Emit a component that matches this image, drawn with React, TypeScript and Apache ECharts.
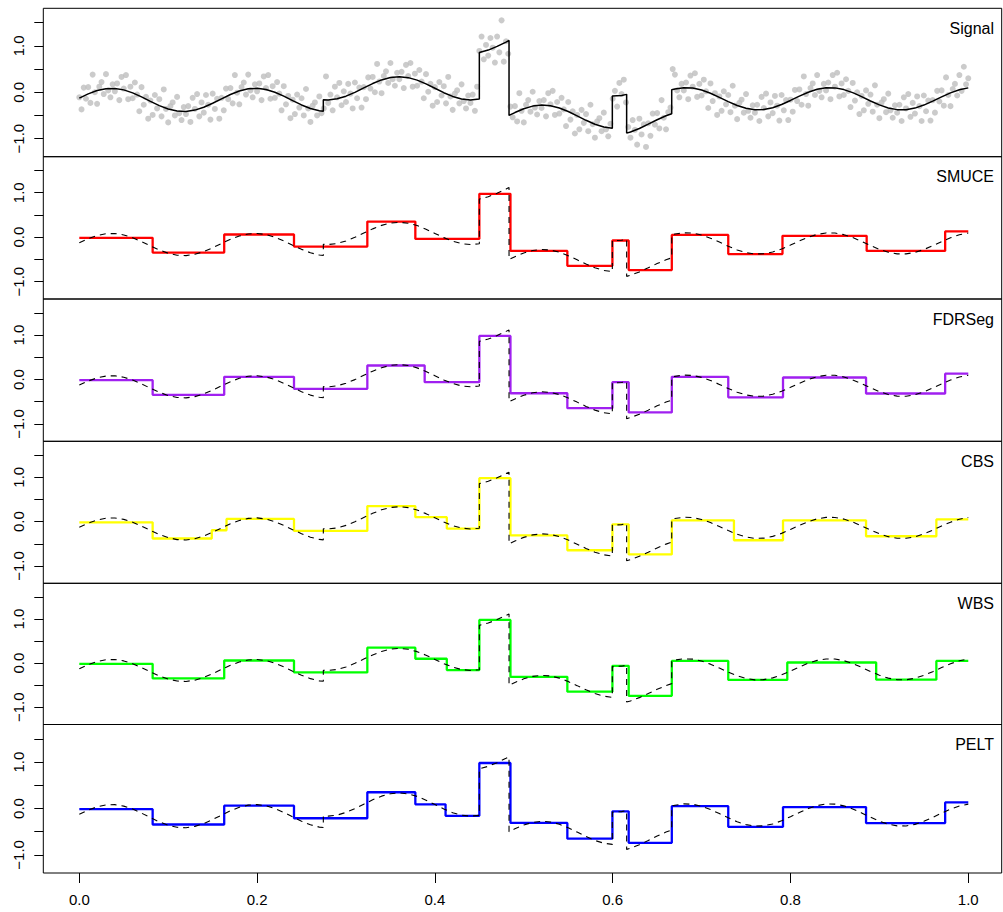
import React, { useEffect, useRef } from "react";
import * as echarts from "echarts";

// ---------- data ----------
// noisy observations, equally spaced on [0, 1] (401 points)
const signalY: number[] = [
  -0.11, -0.37, 0.1, -0.14, 0.11, -0.23, 0.38, 0.0, -0.25, 0.12, 0.22, -0.04, 0.39, 0.04, -0.11, 0.17,
  0.02, 0.19, -0.17, 0.33, 0.08, 0.37, -0.15, 0.12, -0.13, 0.21, -0.05, -0.41, 0.11, -0.27, -0.1, -0.57,
  -0.18, -0.49, -0.06, -0.35, -0.15, -0.52, 0.06, -0.36, -0.65, -0.3, -0.22, -0.5, -0.1, -0.45, -0.6, -0.32,
  -0.47, -0.3, -0.64, -0.12, -0.36, -0.04, -0.52, -0.22, -0.44, -0.06, -0.27, -0.59, -0.03, -0.36, -0.14, -0.57,
  -0.12, -0.39, 0.08, -0.15, 0.09, -0.24, 0.37, -0.01, -0.26, 0.11, 0.21, -0.05, 0.38, 0.04, -0.11, 0.17,
  0.02, 0.19, -0.17, 0.34, 0.09, 0.37, -0.14, 0.13, -0.12, 0.22, -0.03, -0.39, 0.13, -0.26, -0.08, -0.56,
  -0.16, -0.47, -0.05, -0.33, -0.13, -0.5, 0.07, -0.35, -0.64, -0.29, -0.22, -0.5, -0.09, -0.45, -0.35, 0.34,
  -0.23, -0.05, -0.39, 0.12, -0.11, 0.2, -0.28, 0.02, -0.21, 0.18, -0.03, -0.35, 0.21, -0.13, 0.1, -0.33,
  0.11, -0.15, 0.32, 0.08, 0.33, 0.0, 0.61, 0.23, -0.02, 0.35, 0.45, 0.2, 0.63, 0.28, 0.14, 0.42,
  0.28, 0.44, 0.09, 0.59, 0.35, 0.63, 0.12, 0.4, 0.14, 0.48, 0.23, -0.13, 0.39, 0.01, 0.18, -0.29,
  0.11, -0.21, 0.22, -0.07, 0.13, -0.24, 0.33, -0.09, -0.38, -0.03, 0.04, -0.24, 0.17, -0.19, -0.35, -0.07,
  -0.23, -0.05, -0.4, 0.12, 0.89, 1.2, 0.71, 1.02, 0.79, 1.17, 0.96, 0.64, 1.2, 0.86, 1.55, 0.66,
  1.1, 0.83, -0.31, -0.54, -0.3, -0.63, -0.02, -0.4, -0.65, -0.27, -0.17, -0.42, 0.01, -0.33, -0.48, -0.19,
  -0.34, -0.17, -0.52, -0.02, -0.26, 0.03, -0.49, -0.21, -0.46, -0.12, -0.37, -0.73, -0.21, -0.59, -0.41, -0.89,
  -0.49, -0.8, -0.38, -0.66, -0.47, -0.84, -0.27, -0.69, -0.98, -0.63, -0.56, -0.84, -0.44, -0.8, -0.95, -0.68,
  -0.14, 0.03, -0.31, 0.2, -0.04, 0.27, -0.22, -0.75, -0.98, -0.6, -0.81, -1.13, -0.57, -0.91, -0.69, -1.18,
  -0.67, -0.94, -0.46, -0.7, -0.45, -0.78, -0.17, -0.55, -0.8, -0.43, -0.33, 0.5, 0.38, 0.04, -0.11, 0.18,
  0.04, 0.21, -0.15, 0.36, 0.12, 0.41, -0.1, 0.18, -0.07, 0.27, 0.02, -0.34, 0.19, -0.19, -0.02, -0.49,
  -0.09, -0.4, 0.02, -0.26, -0.06, -0.43, 0.14, -0.29, -0.58, -0.23, -0.16, -0.44, -0.04, -0.4, -0.55, -0.28,
  -0.44, -0.27, -0.62, -0.1, -0.34, -0.03, -0.52, -0.22, -0.45, -0.08, -0.29, -0.61, -0.06, -0.39, -0.17, -0.6,
  -0.16, -0.42, 0.05, -0.19, 0.06, -0.27, 0.34, -0.04, -0.29, 0.09, 0.19, -0.06, 0.37, 0.03, -0.11, 0.18,
  0.04, 0.21, -0.15, 0.37, 0.12, 0.42, -0.09, 0.19, -0.06, 0.28, 0.03, -0.32, 0.2, -0.18, 0.0, -0.47,
  -0.08, -0.39, 0.04, -0.25, -0.05, -0.42, 0.15, -0.27, -0.56, -0.22, -0.15, -0.43, -0.03, -0.39, -0.55, -0.28,
  -0.44, -0.27, -0.62, -0.11, -0.35, -0.04, -0.53, -0.23, -0.46, -0.09, -0.3, -0.62, -0.07, -0.41, -0.18, -0.61,
  -0.17, -0.44, 0.03, -0.2, 0.04, -0.29, 0.32, -0.06, -0.3, 0.07, 0.18, -0.07, 0.37, 0.03, 0.55, 0.17,
  0.3,
];

// true (noise-free) signal as [x, y]
const truth: [number, number][] = [
  [0, -0.126], [0.01, -0.035], [0.02, 0.036], [0.03, 0.077], [0.04, 0.083], [0.05, 0.051], [0.06, -0.013],
  [0.07, -0.1], [0.08, -0.196], [0.09, -0.288], [0.1, -0.361], [0.11, -0.405], [0.12, -0.414], [0.13, -0.385],
  [0.14, -0.323], [0.15, -0.238], [0.16, -0.142], [0.17, -0.049], [0.18, 0.026], [0.19, 0.073], [0.2, 0.084],
  [0.21, 0.058], [0.22, -0.001], [0.23, -0.085], [0.24, -0.181], [0.25, -0.274], [0.26, -0.351], [0.27, -0.401],
  [0.2745, -0.411], [0.2745, -0.161], [0.28, -0.165], [0.29, -0.142], [0.3, -0.085], [0.31, -0.003], [0.32, 0.093],
  [0.33, 0.187], [0.34, 0.266], [0.35, 0.318], [0.36, 0.335], [0.37, 0.315], [0.38, 0.261], [0.39, 0.18],
  [0.4, 0.085], [0.41, -0.01], [0.42, -0.09], [0.43, -0.145], [0.44, -0.165], [0.45, -0.148],
  [0.45, 0.857], [0.46, 0.909], [0.47, 0.988], [0.48, 1.082], [0.4834, 1.115],
  [0.4834, -0.5], [0.49, -0.438], [0.5, -0.355], [0.51, -0.299], [0.52, -0.275], [0.53, -0.29], [0.54, -0.339],
  [0.55, -0.416], [0.56, -0.509], [0.57, -0.605], [0.58, -0.689], [0.59, -0.748], [0.5996, -0.774],
  [0.5996, -0.079], [0.61, -0.068], [0.6157, -0.046],
  [0.6157, -0.881], [0.62, -0.856], [0.63, -0.781], [0.64, -0.689], [0.65, -0.593], [0.66, -0.507], [0.6664, -0.464],
  [0.6664, 0.053], [0.67, 0.071], [0.68, 0.099], [0.69, 0.091], [0.7, 0.048], [0.71, -0.022], [0.72, -0.11],
  [0.73, -0.202], [0.74, -0.286], [0.75, -0.347], [0.76, -0.378], [0.77, -0.373], [0.78, -0.333], [0.79, -0.265],
  [0.8, -0.177], [0.81, -0.085], [0.82, 0.0], [0.83, 0.063], [0.84, 0.096], [0.85, 0.094], [0.86, 0.057],
  [0.87, -0.009], [0.88, -0.095], [0.89, -0.188], [0.9, -0.273], [0.91, -0.339], [0.92, -0.375], [0.93, -0.376],
  [0.94, -0.342], [0.95, -0.277], [0.96, -0.192], [0.97, -0.099], [0.98, -0.013], [0.99, 0.055], [1.0, 0.094],
];

// piecewise-constant estimates: segment starts and segment levels
const smuceBreaks = [0, 0.0825, 0.163, 0.2415, 0.324, 0.378, 0.45, 0.485, 0.549, 0.5997, 0.618, 0.6665, 0.73, 0.791, 0.8857, 0.974];
const smuceLevels = [-0.015, -0.345, 0.06, -0.21, 0.35, -0.04, 0.975, -0.31, -0.645, -0.075, -0.74, 0.05, -0.38, 0.03, -0.31, 0.13];

const fdrBreaks = [0, 0.0825, 0.163, 0.2415, 0.324, 0.3885, 0.45, 0.485, 0.549, 0.5997, 0.618, 0.6665, 0.73, 0.7916, 0.885, 0.974];
const fdrLevels = [-0.015, -0.345, 0.06, -0.21, 0.315, -0.06, 0.98, -0.31, -0.645, -0.06, -0.74, 0.06, -0.4, 0.045, -0.315, 0.13];

const cbsBreaks = [0, 0.0825, 0.149, 0.1656, 0.2415, 0.324, 0.378, 0.4134, 0.45, 0.485, 0.549, 0.5997, 0.618, 0.6665, 0.7364, 0.7916, 0.885, 0.9641];
const cbsLevels = [-0.015, -0.38, -0.195, 0.06, -0.21, 0.35, 0.1, -0.157, 0.98, -0.31, -0.645, -0.06, -0.74, 0.03, -0.42, 0.03, -0.33, 0.05];

const wbsBreaks = [0, 0.0825, 0.163, 0.2415, 0.324, 0.378, 0.4134, 0.45, 0.485, 0.549, 0.5997, 0.618, 0.6665, 0.73, 0.7964, 0.8964, 0.9641];
const wbsLevels = [-0.015, -0.345, 0.06, -0.21, 0.35, 0.1, -0.157, 0.98, -0.31, -0.645, -0.06, -0.74, 0.05, -0.38, 0.015, -0.375, 0.05];

const peltBreaks = [0, 0.0825, 0.163, 0.2415, 0.324, 0.378, 0.412, 0.45, 0.485, 0.549, 0.5997, 0.618, 0.6665, 0.73, 0.7916, 0.885, 0.974];
const peltLevels = [-0.015, -0.345, 0.06, -0.21, 0.35, 0.09, -0.157, 0.98, -0.31, -0.65, -0.06, -0.74, 0.05, -0.395, 0.03, -0.315, 0.13];

const panelNames = ["Signal", "SMUCE", "FDRSeg", "CBS", "WBS", "PELT"];
const xTicks = [0, 0.2, 0.4, 0.6, 0.8, 1.0];
const yTicks = [-1, -0.5, 0, 0.5, 1, 1.5];
const yLabels = [-1, 0, 1];

// ---------- layout ----------
const W = 1003;
const H = 912;
const FONT = '"Liberation Sans", Arial, Helvetica, sans-serif';
const gridEdges = [8.3, 156.7, 299, 441.3, 583.3, 724.5, 873];
const LEFT = 43.3;
const RIGHT = 1.3;
const X_MIN = -0.0405;
const X_MAX = 1.0376;
const Y_MIN = -1.39;
const Y_MAX = 1.81;

const methods = [
  { breaks: smuceBreaks, levels: smuceLevels, color: "#FF0000" },
  { breaks: fdrBreaks, levels: fdrLevels, color: "#A020F0" },
  { breaks: cbsBreaks, levels: cbsLevels, color: "#FFFF00" },
  { breaks: wbsBreaks, levels: wbsLevels, color: "#00FF00" },
  { breaks: peltBreaks, levels: peltLevels, color: "#0000FF" },
];

function fmt(v: number): string {
  return v.toFixed(1).replace("-", "\u2212");
}

function buildOption(): any {
  const grids: any[] = [];
  const xAxes: any[] = [];
  const yAxes: any[] = [];
  const series: any[] = [];
  const graphics: any[] = [];

  for (let i = 0; i < 6; i++) {
    const top = gridEdges[i];
    const bottom = gridEdges[i + 1];
    grids.push({
      left: LEFT,
      right: RIGHT,
      top: top,
      height: bottom - top,
      show: true,
      borderColor: "#000",
      borderWidth: 1,
      backgroundColor: "transparent",
    });
    const isLast = i === 5;
    xAxes.push({
      gridIndex: i,
      type: "value",
      position: "bottom",
      min: X_MIN,
      max: X_MAX,
      axisLine: { show: false, onZero: false },
      splitLine: { show: false },
      axisTick: {
        show: isLast,
        customValues: xTicks,
        length: 10,
        lineStyle: { color: "#000", width: 1 },
      },
      axisLabel: {
        show: isLast,
        customValues: xTicks,
        formatter: (v: number) => fmt(v),
        margin: 19,
        fontSize: 15,
        color: "#000",
        fontFamily: FONT,
      },
    });
    yAxes.push({
      gridIndex: i,
      type: "value",
      position: "left",
      min: Y_MIN,
      max: Y_MAX,
      axisLine: { show: false, onZero: false },
      splitLine: { show: false },
      axisTick: {
        show: true,
        customValues: yTicks,
        length: 9,
        lineStyle: { color: "#000", width: 1 },
      },
      axisLabel: {
        show: true,
        customValues: yLabels,
        formatter: (v: number) => fmt(v),
        rotate: 90,
        margin: 17,
        fontSize: 15,
        color: "#000",
        fontFamily: FONT,
      },
    });
    graphics.push({
      type: "text",
      right: W - 994,
      top: top + 12,
      style: {
        text: panelNames[i],
        font: `16px ${FONT}`,
        fill: "#000",
      },
    });
  }

  // Signal panel
  const n = signalY.length;
  series.push({
    type: "scatter",
    xAxisIndex: 0,
    yAxisIndex: 0,
    symbol: "circle",
    symbolSize: 6,
    itemStyle: { color: "#BEBEBE" },
    data: signalY.map((y, i) => [i / (n - 1), y]),
    z: 2,
  });
  series.push({
    type: "line",
    xAxisIndex: 0,
    yAxisIndex: 0,
    data: truth,
    symbol: "none",
    lineStyle: { color: "#000", width: 1.5 },
    z: 3,
  });

  methods.forEach((m, j) => {
    const gi = j + 1;
    const data = m.breaks.map((b, k) => [b, m.levels[k]]);
    data.push([1, m.levels[m.levels.length - 1]]);
    series.push({
      type: "line",
      xAxisIndex: gi,
      yAxisIndex: gi,
      step: "end",
      data,
      symbol: "none",
      lineStyle: { color: m.color, width: 2.3 },
      z: 2,
    });
    series.push({
      type: "line",
      xAxisIndex: gi,
      yAxisIndex: gi,
      data: truth,
      symbol: "none",
      lineStyle: { color: "#000", width: 1.1, type: [6, 5] },
      z: 3,
    });
  });

  return {
    animation: false,
    backgroundColor: "#fff",
    textStyle: { fontFamily: FONT },
    grid: grids,
    xAxis: xAxes,
    yAxis: yAxes,
    series,
    graphic: graphics,
  };
}

export default function App() {
  const ref = useRef<HTMLDivElement>(null);
  useEffect(() => {
    if (!ref.current) return;
    const chart = echarts.init(ref.current, null, { renderer: "svg" });
    chart.setOption(buildOption());
    return () => {
      chart.dispose();
    };
  }, []);
  return (
    <div
      ref={ref}
      style={{ position: "absolute", left: 0, top: 0, width: W, height: H, background: "#fff" }}
    />
  );
}
